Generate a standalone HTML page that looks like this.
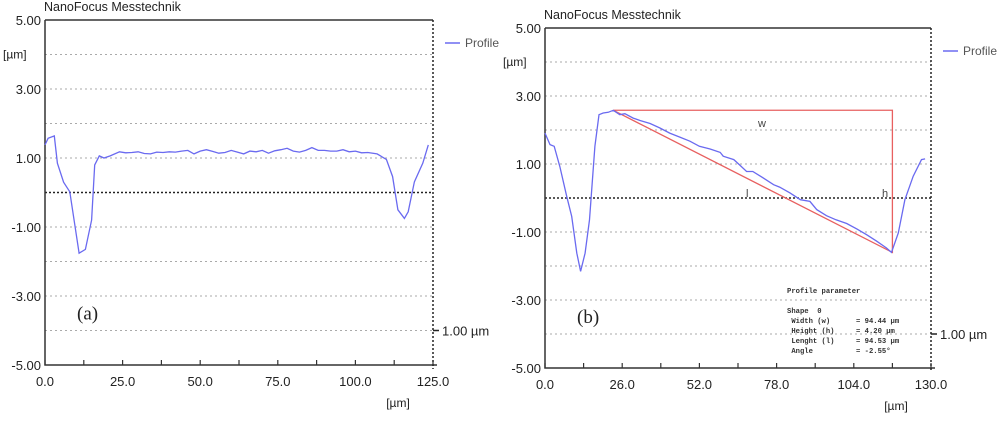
<!DOCTYPE html>
<html><head><meta charset="utf-8">
<style>
body{margin:0;background:#fff;width:1000px;height:416px;overflow:hidden;}
</style></head>
<body>
<svg id="chart" width="1000" height="416" viewBox="0 0 1000 416" xmlns="http://www.w3.org/2000/svg" font-family="Liberation Sans, sans-serif"></svg>
<script>
// Chart (a) data
const aX = [0,1,3,4,6,8,11,13,15,16,17.5,19,21,24,26,28,30,32,34,36,38,40,42,44,46,48,50,52,54,56,58,60,62,64,66,68,70,72,74,76,78,80,82,84,86,88,90,92,94,96,98,100,102,104,107,110,112,113.7,115.8,117,119,121.7,123.5];
const aY = [1.38,1.57,1.64,0.85,0.3,0.02,-1.76,-1.65,-0.8,0.8,1.06,1.0,1.06,1.18,1.15,1.16,1.18,1.13,1.12,1.17,1.16,1.18,1.17,1.2,1.22,1.12,1.2,1.24,1.19,1.14,1.16,1.22,1.17,1.12,1.2,1.18,1.22,1.14,1.21,1.24,1.28,1.2,1.17,1.22,1.3,1.22,1.22,1.2,1.2,1.24,1.18,1.2,1.15,1.16,1.12,0.96,0.46,-0.5,-0.75,-0.56,0.31,0.85,1.38];
const aXTicks = ["0.0","25.0","50.0","75.0","100.0","125.0"];
const aYTicks = ["5.00","3.00","1.00","-1.00","-3.00","-5.00"];
// Chart (b) data
const bX = [0,1.7,3.1,5,7.3,9,10.7,12,13.5,15,16.8,18.2,19.6,21.3,23,25.2,26.9,29.7,32,35.4,38.7,42,45.4,48.8,52,55.6,59,60,63.6,65.7,67.9,70,73.5,77,79,82.5,86,89.2,91.5,94.8,98,101.6,105,108.3,111.7,115,116.7,119,121.2,124,126.8,128];
const bY = [1.91,1.57,1.52,0.93,0.05,-0.54,-1.62,-2.16,-1.62,-0.64,1.52,2.45,2.5,2.52,2.58,2.45,2.48,2.35,2.28,2.19,2.06,1.91,1.79,1.67,1.52,1.44,1.34,1.23,1.13,0.96,0.78,0.78,0.59,0.39,0.32,0.15,-0.05,-0.1,-0.34,-0.52,-0.64,-0.75,-0.91,-1.08,-1.27,-1.47,-1.6,-1.03,-0.05,0.64,1.13,1.15];
const bXTicks = ["0.0","26.0","52.0","78.0","104.0","130.0"];
const bYTicks = aYTicks;
const bTriangle = [[23,2.58],[117,2.58],[117,-1.6]];
const bParams = ["Shape  0"," Width (w)      = 94.44 \u00b5m"," Height (h)     = 4.20 \u00b5m"," Lenght (l)     = 94.53 \u00b5m"," Angle          = -2.55\u00b0"];

const NS="http://www.w3.org/2000/svg";
const svg=document.getElementById('chart');
function el(tag,attrs,parent,text){const e=document.createElementNS(NS,tag);for(const k in attrs)e.setAttribute(k,attrs[k]);if(text!==undefined)e.textContent=text;(parent||svg).appendChild(e);return e;}

function drawChart(cfg){
  const g=el('g',{});
  
  
  const xs=v=>cfg.L+(v-0)/cfg.xmax*(cfg.R-cfg.L);
  const ys=v=>cfg.T+(5-v)/10*(cfg.B-cfg.T);
  const t=el('text',{x:cfg.L-1,y:cfg.T-9,'font-size':12.5,fill:'#222'},g,'NanoFocus Messtechnik');
  
  
  [4,2,-2,-4,3,1,-1,-3].forEach(v=>{
    const l=el('line',{x1:cfg.L,x2:cfg.R,y1:ys(v),y2:ys(v),stroke:'#aaa','stroke-width':1,'stroke-dasharray':'2,3'},g);
    
    
  });
  const z=el('line',{x1:cfg.L,x2:cfg.R,y1:ys(0),y2:ys(0),stroke:'#222','stroke-width':1.5,'stroke-dasharray':'2,2'},g);
  
  
  const ax=el('path',{d:`M${cfg.L},${cfg.T}H${cfg.R}M${cfg.L},${cfg.T}V${cfg.B}H${cfg.R+4}`,stroke:'#333','stroke-width':1.5,fill:'none'},g);
  
  
  const ra=el('line',{x1:cfg.R,x2:cfg.R,y1:cfg.T,y2:cfg.B+4,stroke:'#222','stroke-width':1.5,'stroke-dasharray':'2,2'},g);
  
  
  cfg.yTicks.forEach(s=>{
    const v=parseFloat(s);
    const tx=el('text',{x:cfg.L-4,y:ys(v)+5,'font-size':13,'text-anchor':'end',fill:'#222'},g,s);
    
    
  });
  const yu=el('text',{x:cfg.L-42,y:ys(4)+4,'font-size':12,fill:'#222'},g,'[\u00b5m]');
  
  
  const step=parseFloat(cfg.xTicks[1])/2;
  for(let v=0;v<=cfg.xmax+0.01;v+=step){
    const tk=el('line',{x1:xs(v),x2:xs(v),y1:cfg.B,y2:cfg.B-5,stroke:'#333','stroke-width':1.2},g);
    
    
  }
  cfg.xTicks.forEach(s=>{
    const v=parseFloat(s);
    const tx=el('text',{x:xs(v),y:cfg.B+21,'font-size':13,'text-anchor':'middle',fill:'#222'},g,s);
    
    
  });
  const xu=el('text',{x:cfg.R-35,y:cfg.B+42,'font-size':12,'text-anchor':'middle',fill:'#222'},g,'[\u00b5m]');
  
  
  const sb=el('line',{x1:cfg.R,x2:cfg.R+6,y1:ys(-4),y2:ys(-4),stroke:'#222','stroke-width':1.5},g);
  
  
  const sl=el('text',{x:cfg.R+9,y:ys(-4)+5,'font-size':13,fill:'#222'},g,'1.00 \u00b5m');
  
  
  const lg=el('line',{x1:cfg.R+12,x2:cfg.R+27,y1:cfg.T+23,y2:cfg.T+23,stroke:'#6a6af0','stroke-width':1.5},g);
  
  
  const lt=el('text',{x:cfg.R+32,y:cfg.T+27,'font-size':12,fill:'#555'},g,'Profile');
  
  
  const pl=el('text',{x:cfg.L+32,y:ys(-3.5)+6,'font-size':19,fill:'#222',style:'font-family:"Liberation Serif",serif'},g,cfg.label);
  
  
  if(cfg.extra)cfg.extra(g,xs,ys);
  const d=cfg.X.map((x,i)=>(i?'L':'M')+xs(x).toFixed(1)+','+ys(cfg.Y[i]).toFixed(1)).join('');
  const p=el('path',{d:d,stroke:'#6a6af0','stroke-width':1.3,fill:'none'},g);
  
  
}

drawChart({name:'chart-a',L:45,R:433,T:20,B:365,xmax:125,X:aX,Y:aY,xTicks:aXTicks,yTicks:aYTicks,label:'(a)'});
drawChart({name:'chart-b',L:545,R:931,T:28,B:368,xmax:130,X:bX,Y:bY,xTicks:bXTicks,yTicks:bYTicks,label:'(b)',
 extra:(g,xs,ys)=>{
  const [a,b,c]=bTriangle;
  const tri=el('path',{d:`M${xs(a[0])},${ys(a[1])}L${xs(b[0])},${ys(b[1])}L${xs(c[0])},${ys(c[1])}Z`,stroke:'#e86060','stroke-width':1.3,fill:'none'},g);
  
  
  [['w',758,127],['l',746,197],['h',882,197]].forEach(([s,x,y])=>{
    const tx=el('text',{x:x,y:y,'font-size':11,fill:'#444'},g,s);
    
    
  });
  const mono='font-family:"Liberation Mono",monospace;white-space:pre';
  const ph=el('text',{x:787,y:293,'font-size':7.2,'font-weight':'bold',fill:'#333',style:mono},g,'Profile parameter');
  
  
  bParams.forEach((s,i)=>{
    const tx=el('text',{x:787,y:313+i*10,'font-size':7.2,'font-weight':'bold',fill:'#333',style:mono},g,s);
    
    
  });
 }});
</script>
</body></html>
